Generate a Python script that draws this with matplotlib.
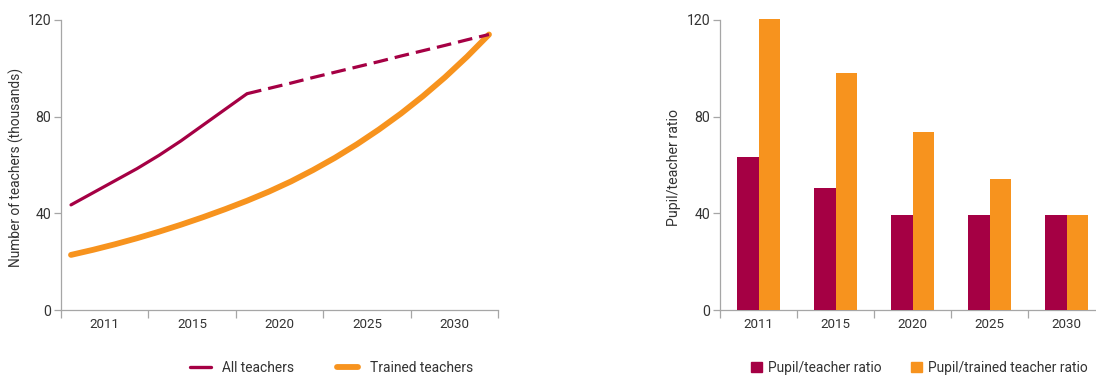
import matplotlib
matplotlib.use("Agg")
import matplotlib.pyplot as plt
from matplotlib.lines import Line2D
from matplotlib.patches import Patch
import numpy as np

# ---- data ----
years_solid = [2011, 2012, 2013, 2014, 2015, 2016, 2017, 2018, 2019]
all_teachers_solid = [43.5, 48.5, 53.5, 58.5, 64.0, 70.0, 76.5, 83.0, 89.5]
years_dashed = [2019, 2020, 2021, 2022, 2023, 2024, 2025, 2026, 2027, 2028, 2029, 2030]
all_teachers_dashed = [89.5, 91.7, 93.9, 96.2, 98.4, 100.6, 102.8, 105.1, 107.3, 109.5, 111.8, 114.0]
years_trained = list(range(2011, 2031))
trained_teachers = [22.8, 24.9, 27.2, 29.7, 32.4, 35.3, 38.4, 41.7, 45.2, 49.0,
                    53.2, 57.9, 63.0, 68.6, 74.7, 81.3, 88.5, 96.3, 104.8, 114.0]

categories = ["2011", "2015", "2020", "2025", "2030"]
pupil_teacher = [63.2, 50.4, 39.4, 39.4, 39.4]
pupil_trained = [120.5, 98.0, 73.7, 54.1, 39.4]

PURPLE = "#A50044"
ORANGE = "#F7931E"
TXT = "#333333"
SPINE = "#A6A6A6"

FS = 9.6
LFS = 9.95
plt.rcParams["font.family"] = ["Roboto", "DejaVu Sans"]
plt.rcParams["font.size"] = FS
plt.rcParams["text.color"] = TXT
plt.rcParams["axes.labelcolor"] = TXT
plt.rcParams["xtick.color"] = SPINE
plt.rcParams["ytick.color"] = SPINE
plt.rcParams["xtick.labelcolor"] = TXT
plt.rcParams["ytick.labelcolor"] = TXT

W, H = 1096, 376
fig = plt.figure(figsize=(W / 100, H / 100), dpi=100)

def style(ax):
    for s in ["top", "right"]:
        ax.spines[s].set_visible(False)
    for s in ["left", "bottom"]:
        ax.spines[s].set_color(SPINE)
        ax.spines[s].set_linewidth(0.9)
    ax.tick_params(axis="y", length=5, width=0.9, pad=2, labelsize=FS + 0.6)
    ax.set_yticks([0, 40, 80, 120])
    ax.set_ylim(0, 120)

# ---- left chart ----
ax1 = fig.add_axes([61 / W, (H - 310) / H, 437 / W, 290 / H])
style(ax1)
x0, x1 = 2010.545, 2030.41
ax1.set_xlim(x0, x1)
bw = (x1 - x0) / 5
bounds = [x0 + k * bw for k in range(6)]
centers = [x0 + (k + 0.5) * bw for k in range(5)]
ax1.set_xticks(bounds)
ax1.set_xticklabels([""] * 6)
ax1.tick_params(axis="x", length=6, width=0.9)
ax1.set_xticks(centers, minor=True)
ax1.set_xticklabels(categories, minor=True)
ax1.tick_params(axis="x", which="minor", length=0, pad=6)

ax1.plot(years_trained, trained_teachers, color=ORANGE, lw=4.2,
         solid_capstyle="round", clip_on=False, zorder=3)
ax1.plot(years_solid, all_teachers_solid, color=PURPLE, lw=2.3,
         solid_capstyle="round", clip_on=False, zorder=4)
ax1.plot(years_dashed, all_teachers_dashed, color=PURPLE, lw=2.3,
         dashes=(4.6, 2.2), clip_on=False, zorder=4)
ax1.set_ylabel("Number of teachers (thousands)", fontsize=FS + 0.3)
ax1.yaxis.set_label_coords(-0.085, 0.49)

h1 = [Line2D([], [], color=PURPLE, lw=2.4, solid_capstyle="round"),
      Line2D([], [], color=ORANGE, lw=4.2, solid_capstyle="round")]
fig.legend(h1, ["All teachers", "Trained teachers"], loc="center left",
           bbox_to_anchor=(190 / W, 1 - 368 / H), ncol=2, frameon=False,
           handlelength=1.5, handletextpad=0.85, columnspacing=3.1,
           borderaxespad=0, borderpad=0, fontsize=LFS)

# ---- right chart ----
ax2 = fig.add_axes([720 / W, (H - 310) / H, 385 / W, 290 / H])
style(ax2)
idx = np.arange(len(categories))
ax2.set_xlim(-0.5, len(categories) - 0.5)
bwid = 0.285
ax2.bar(idx - bwid / 2, pupil_teacher, width=bwid, color=PURPLE, clip_on=False, zorder=3)
ax2.bar(idx + bwid / 2, pupil_trained, width=bwid, color=ORANGE, clip_on=False, zorder=3)
ax2.set_xticks(np.arange(len(categories) + 1) - 0.5)
ax2.set_xticklabels([""] * (len(categories) + 1))
ax2.tick_params(axis="x", length=6, width=0.9)
ax2.set_xticks(idx, minor=True)
ax2.set_xticklabels(categories, minor=True)
ax2.tick_params(axis="x", which="minor", length=0, pad=6)
ax2.set_ylabel("Pupil/teacher ratio", fontsize=FS + 0.6)
ax2.yaxis.set_label_coords(-0.101, 0.493)

h2 = [Patch(color=PURPLE), Patch(color=ORANGE)]
fig.legend(h2, ["Pupil/teacher ratio", "Pupil/trained teacher ratio"], loc="center left",
           bbox_to_anchor=(751 / W, 1 - 368 / H), ncol=2, frameon=False,
           handlelength=0.8, handleheight=0.8, handletextpad=0.45, columnspacing=2.1,
           borderaxespad=0, borderpad=0, fontsize=LFS)

fig.savefig("out.png", dpi=100)
